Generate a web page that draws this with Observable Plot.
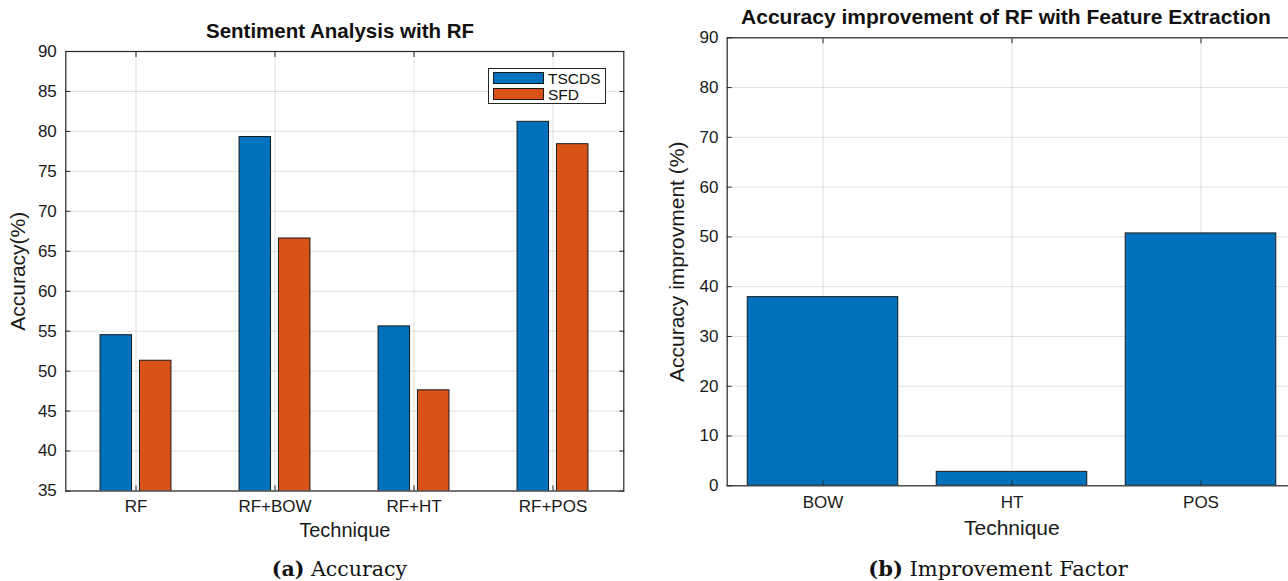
<!DOCTYPE html>
<html><head><meta charset="utf-8">
<script src="https://cdn.jsdelivr.net/npm/d3@7"></script>
<script src="https://cdn.jsdelivr.net/npm/@observablehq/plot@0.6"></script>
<style>
html,body{margin:0;padding:0;background:#fff;}
#wrap{position:relative;width:1288px;height:581px;overflow:hidden;font-family:"Liberation Sans",Arial,sans-serif;}
.abs{position:absolute;}
.title{font-weight:bold;text-align:center;color:#111;white-space:nowrap;line-height:24px;}
.cap{font-family:"DejaVu Serif",serif;text-align:center;white-space:nowrap;color:#111;line-height:26px;}
.leg{border:1px solid #262626;background:#fff;box-sizing:border-box;}
.sw{position:absolute;border:1px solid #1a1a1a;box-sizing:border-box;}
.lt{position:absolute;font-size:15.5px;line-height:15px;color:#111;}
</style></head><body><div id="wrap"></div>
<script>
// ---- data ----
const techniques = ["RF", "RF+BOW", "RF+HT", "RF+POS"];
const seriesNames = ["TSCDS", "SFD"];
const tscdsAcc = [54.5, 79.3, 55.6, 81.2];
const sfdAcc = [51.3, 66.6, 47.6, 78.4];
const seriesColors = ["#0072BD", "#D95319"];
const accTicks = [35, 40, 45, 50, 55, 60, 65, 70, 75, 80, 85, 90];
const features = ["BOW", "HT", "POS"];
const improvement = [37.9, 2.8, 50.7];
const impTicks = [0, 10, 20, 30, 40, 50, 60, 70, 80, 90];
const leftTitle = "Sentiment Analysis with RF";
const rightTitle = "Accuracy improvement of RF with Feature Extraction";
const leftYLabel = "Accuracy(%)";
const rightYLabel = "Accuracy improvment (%)";
const xLabel = "Technique";

const accRows = techniques.flatMap((t, i) => [
  {technique: t, series: seriesNames[0], value: tscdsAcc[i]},
  {technique: t, series: seriesNames[1], value: sfdAcc[i]}
]);
const impRows = features.map((f, i) => ({feature: f, value: improvement[i]}));

const wrap = document.getElementById("wrap");
const axisColor = "#262626";
const textColor = "#1a1a1a";
const gridStyle = {stroke: "#000", strokeOpacity: 0.12, strokeWidth: 1};
const blank = () => "";

function inwardTicks(yTicks) {
  return [
    Plot.axisX({anchor: "bottom", tickSize: 5, dy: -5, tickFormat: blank, label: null, stroke: axisColor}),
    Plot.axisX({anchor: "top", tickSize: 5, dy: 5, tickFormat: blank, label: null, stroke: axisColor}),
    Plot.axisY(yTicks, {anchor: "left", tickSize: 5, dx: 5, tickFormat: blank, label: null, stroke: axisColor}),
    Plot.axisY(yTicks, {anchor: "right", tickSize: 5, dx: -5, tickFormat: blank, label: null, stroke: axisColor})
  ];
}
function tickLabels(cats, yTicks, xdy, ydx) {
  return [
    Plot.text(cats, {x: d => d, text: d => d, frameAnchor: "bottom", textAnchor: "middle", lineAnchor: "middle", dy: xdy, fontSize: 17, fill: textColor}),
    Plot.text(yTicks, {y: d => d, text: d => String(d), frameAnchor: "left", textAnchor: "end", lineAnchor: "middle", dx: ydx, fontSize: 17, fill: textColor})
  ];
}

// ---- left chart ----
const leftW = 640, leftML = 65.3, leftMR = 16.7;
const leftBW = (leftW - leftML - leftMR) / techniques.length;
const barW = 32, offs = 19.7;
const left = Plot.plot({
  width: leftW, height: 581,
  marginLeft: leftML, marginRight: leftMR, marginTop: 51, marginBottom: 90.5,
  style: {fontFamily: "Liberation Sans, Arial, sans-serif", fontSize: "17px", color: textColor, background: "transparent"},
  x: {domain: techniques, padding: 0, label: null},
  y: {domain: [35, 90], label: null},
  color: {domain: seriesNames, range: seriesColors},
  marks: [
    Plot.gridY(accTicks, gridStyle),
    Plot.gridX(gridStyle),
    ...seriesNames.map((s, k) => Plot.barY(accRows.filter(d => d.series === s), {
      x: "technique", y: "value", fill: "series", stroke: "#1a1a1a", strokeWidth: 1,
      insetLeft: (leftBW - barW) / 2, insetRight: (leftBW - barW) / 2,
      dx: k === 0 ? -offs : offs, clip: true
    })),
    Plot.frame({stroke: axisColor, strokeWidth: 1.2}),
    ...inwardTicks(accTicks),
    ...tickLabels(techniques, accTicks, 15.5, -9),
    Plot.text([leftYLabel], {text: d => d, frameAnchor: "left", textAnchor: "middle", lineAnchor: "middle", dx: -47.6, rotate: -90, fontSize: 21, fill: textColor}),
    Plot.text([xLabel], {text: d => d, frameAnchor: "bottom", textAnchor: "middle", lineAnchor: "middle", dy: 40, fontSize: 20, fill: textColor})
  ]
});
left.style.position = "absolute"; left.style.left = "0px"; left.style.top = "0px";
wrap.appendChild(left);

// ---- right chart ----
const rightW = 660, rightML = 86.7, rightMR = 4;
const rightBW = (rightW - rightML - rightMR) / features.length;
const impBarW = 151.3;
const right = Plot.plot({
  width: rightW, height: 581,
  marginLeft: rightML, marginRight: rightMR, marginTop: 37.3, marginBottom: 95.7,
  style: {fontFamily: "Liberation Sans, Arial, sans-serif", fontSize: "17px", color: textColor, background: "transparent"},
  x: {domain: features, padding: 0, label: null},
  y: {domain: [0, 90], label: null},
  marks: [
    Plot.gridY(impTicks, gridStyle),
    Plot.gridX(gridStyle),
    Plot.barY(impRows, {
      x: "feature", y: "value", fill: seriesColors[0], stroke: "#1a1a1a", strokeWidth: 1,
      insetLeft: (rightBW - impBarW) / 2, insetRight: (rightBW - impBarW) / 2, clip: true
    }),
    Plot.frame({stroke: axisColor, strokeWidth: 1.2}),
    ...inwardTicks(impTicks),
    ...tickLabels(features, impTicks, 16.4, -8.7),
    Plot.text([rightYLabel], {text: d => d, frameAnchor: "left", textAnchor: "middle", lineAnchor: "middle", dx: -50.3, rotate: -90, fontSize: 21, fill: textColor}),
    Plot.text([xLabel], {text: d => d, frameAnchor: "bottom", textAnchor: "middle", lineAnchor: "middle", dy: 42, fontSize: 21, fill: textColor})
  ]
});
right.style.position = "absolute"; right.style.left = "640px"; right.style.top = "0px";
wrap.appendChild(right);

// ---- titles & captions ----
function addDiv(cls, html, l, t, w, fs) {
  const d = document.createElement("div");
  d.className = "abs " + cls;
  d.innerHTML = html;
  d.style.left = l + "px"; d.style.top = t + "px"; d.style.width = w + "px"; d.style.fontSize = fs + "px";
  wrap.appendChild(d);
  return d;
}
addDiv("title", leftTitle, 340 - 300, 19, 600, 20.5);
addDiv("title", rightTitle, 1006 - 350, 5, 700, 21);
addDiv("cap", "<b>(a)</b> Accuracy", 339.5 - 200, 556, 400, 20.5);
addDiv("cap", "<b>(b)</b> Improvement Factor", 998 - 250, 556, 500, 21);

// ---- legend (inside left axes) ----
const leg = document.createElement("div");
leg.className = "abs leg";
Object.assign(leg.style, {left: "488px", top: "67.7px", width: "118px", height: "36.3px"});
seriesNames.forEach((s, k) => {
  const sw = document.createElement("div");
  sw.className = "sw";
  Object.assign(sw.style, {left: "4.3px", top: (3 + k * 16) + "px", width: "50.4px", height: "12.6px", background: seriesColors[k]});
  leg.appendChild(sw);
  const t = document.createElement("div");
  t.className = "lt";
  t.textContent = s;
  Object.assign(t.style, {left: "59px", top: (2 + k * 16) + "px"});
  leg.appendChild(t);
});
wrap.appendChild(leg);
</script></body></html>
